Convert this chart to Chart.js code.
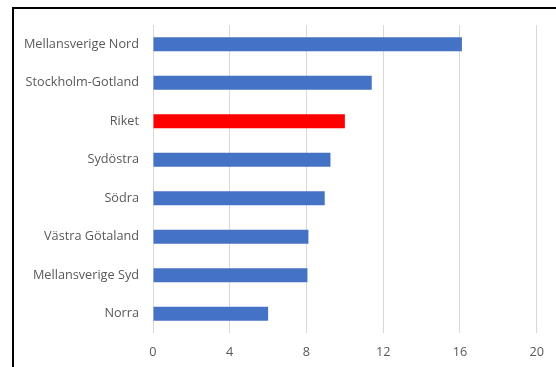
<!DOCTYPE html>
<html>
<head>
<meta charset="utf-8">
<script src="https://cdn.jsdelivr.net/npm/chart.js@4/dist/chart.umd.min.js"></script>
<style>
  html, body { margin: 0; padding: 0; background: #fff; overflow: hidden; }
  #wrap { position: relative; width: 556px; height: 367px; }
  #frame {
    position: absolute; left: 12px; top: 7px; width: 600px; height: 400px;
    border-left: 2px solid #000; border-top: 2px solid #000;
  }
  #regionChart { position: absolute; left: 0; top: 0; }
</style>
</head>
<body>
<div id="wrap">
  <div id="frame"></div>
  <canvas id="regionChart" width="556" height="367"></canvas>
</div>
<script>
// regions, top to bottom
var regions = ["Mellansverige Nord", "Stockholm-Gotland", "Riket", "Sydöstra",
               "Södra", "Västra Götaland", "Mellansverige Syd", "Norra"];
var values = [16.1, 11.4, 10.0, 9.25, 8.95, 8.1, 8.05, 6.0];
var xTicks = [0, 4, 8, 12, 16, 20];

// the national figure gets its own colour
var barColors = [];
for (var i = 0; i < regions.length; i++) {
  barColors.push(regions[i] == "Riket" ? "#FF0000" : "#4472C4");
}

var ctx = document.getElementById("regionChart");
var regionChart = new Chart(ctx, {
  type: "bar",
  data: {
    labels: regions,
    datasets: [{
      data: values,
      backgroundColor: barColors,
      borderWidth: 0,
      barPercentage: 0.37,
      categoryPercentage: 1.0
    }]
  },
  options: {
    indexAxis: "y",
    responsive: false,
    animation: false,
    devicePixelRatio: 1,
    layout: { padding: { top: 25, right: 15, bottom: 0, left: 0 } },
    plugins: { legend: { display: false }, tooltip: { enabled: false } },
    scales: {
      x: {
        min: 0,
        max: 20,
        afterBuildTicks: function(scale) {
          scale.ticks = xTicks.map(function(v) { return { value: v }; });
        },
        afterFit: function(scale) { scale.height = 34; },
        grid: { color: "#d9d9d9", lineWidth: 1, drawTicks: false },
        border: { display: false },
        ticks: {
          autoSkip: false,
          maxRotation: 0,
          padding: 12,
          color: "#595959",
          font: { family: "'Open Sans'", size: 12.7 }
        }
      },
      y: {
        afterFit: function(scale) { scale.width = 153; },
        grid: { display: false, drawTicks: false },
        border: { display: false },
        ticks: {
          autoSkip: false,
          padding: 14,
          color: "#595959",
          font: { family: "'Open Sans'", size: 12.7 }
        }
      }
    }
  }
});
</script>
</body>
</html>
